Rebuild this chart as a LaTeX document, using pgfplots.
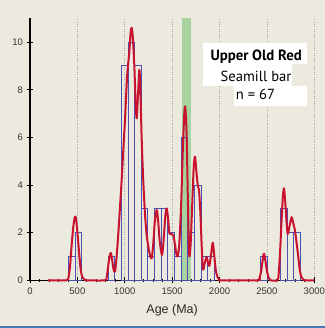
\documentclass[border=0pt]{standalone}
\usepackage{pgfplots}
\pgfplotsset{compat=1.18}
\usepackage{fontspec}
\setmainfont{Liberation Sans}
\newfontfamily\boxfont{PT Sans}
\definecolor{bg}{RGB}{236,233,223}
\definecolor{barblue}{RGB}{78,78,172}
\definecolor{kde}{RGB}{200,18,46}
\definecolor{band}{RGB}{168,210,160}
\definecolor{stripe}{RGB}{72,120,182}
\definecolor{gridgray}{RGB}{165,165,165}
\begin{document}
\begin{tikzpicture}
\useasboundingbox (0,0) rectangle (325bp,328bp);
\fill[bg] (0,0) rectangle (325bp,328bp);
\fill[stripe] (0,0.3bp) rectangle (325bp,2.4bp);
\begin{axis}[
  at={(30bp,47.7bp)}, anchor=south west,
  scale only axis, width=284.3bp, height=262bp,
  xmin=0, xmax=3000, ymin=0, ymax=11,
  axis lines=left,
  axis line style={-, line width=1.1bp, black},
  xtick={0,500,...,3000},
  minor xtick={100,200,...,2900},
  ytick={0,2,...,10},
  minor ytick={1,3,...,11},
  tick align=center,
  major tick length=6bp,
  minor tick length=3bp,
  tick style={black, line width=0.8bp},
  xmajorgrids,
  major grid style={gridgray, dotted, line width=0.7bp},
  /pgf/number format/assume math mode=true,
  /pgf/number format/1000 sep={},
  ticklabel style={font=\fontsize{9.5bp}{11bp}\selectfont, text=black!80},
  xticklabel style={yshift=-1bp},
  yticklabel style={xshift=-0.5bp},
  xlabel={Age (Ma)},
  xlabel style={font=\fontsize{12.5bp}{14bp}\selectfont, text=black!85, yshift=-3bp},
  clip=false,
]
% green band
\addplot[ybar, bar width=95, bar shift=0, fill=band, draw=none] coordinates {(1652.5,11)};
% histogram bars (bin centres, width 70 Ma)
\addplot[ybar, bar width=70, bar shift=0, fill=none, draw=barblue, line width=1bp] coordinates {
(440,1) (510,2) (860,1)
(1000,9) (1070,10) (1140,9) (1210,3) (1280,1) (1350,3) (1420,3) (1490,2) (1560,1)
(1630,6) (1700,2) (1770,4) (1840,1) (1910,1)
(2470,1) (2680,3) (2750,2) (2820,2)};
% KDE curve
\addplot[kde, line width=2bp, smooth, tension=0.45, line join=round] coordinates {
(190,0) (380,0) (405,0.1) (422,0.57) (440,1.5) (457,2.25) (470,2.6) (482,2.67)
(495,2.25) (510,1.55) (525,0.85) (538,0.36) (555,0.12) (580,0.02) (600,0)
(790,0) (810,0.15) (825,0.6) (840,1.0) (853,1.15) (867,0.85) (882,0.45) (897,0.36)
(912,0.9) (932,1.97) (950,3.1) (967,4.2) (985,5.5) (1002,6.7) (1015,7.8) (1027,8.7)
(1048,9.6) (1062,10.4) (1073,10.6) (1085,10.2) (1101,9.0) (1115,7.4) (1126,6.8)
(1140,7.8) (1154,8.84) (1166,7.8) (1178,6.0) (1195,4.2) (1213,2.8) (1230,1.95)
(1249,1.4) (1267,1.05) (1284,0.92) (1300,1.5) (1318,2.5) (1337,2.95) (1352,2.5)
(1370,1.6) (1393,1.06) (1410,1.7) (1428,2.7) (1442,3.02) (1457,2.6) (1470,2.0)
(1480,1.95) (1495,1.95) (1512,1.88) (1530,1.5) (1545,1.1) (1558,1.0) (1575,1.5)
(1595,3.2) (1612,5.4) (1628,7.0) (1639,7.27) (1652,6.2) (1663,4.0) (1673,2.0)
(1682,1.0) (1695,1.5) (1710,3.0) (1727,4.7) (1741,5.19) (1755,4.6) (1770,4.0)
(1783,3.8) (1797,2.9) (1810,1.6) (1822,0.6) (1830,0.45) (1845,0.75) (1864,0.97)
(1878,0.75) (1892,0.6) (1908,1.0) (1928,1.58) (1943,1.1) (1960,0.45) (1977,0.15)
(2000,0.02) (2020,0) (2400,0) (2420,0.08) (2440,0.4) (2455,0.85) (2469,1.12)
(2483,0.85) (2500,0.4) (2520,0.08) (2540,0) (2610,0) (2625,0.3) (2640,1.3)
(2655,2.53) (2668,3.5) (2680,3.86) (2693,3.3) (2708,2.4) (2720,1.95) (2740,2.3)
(2761,2.65) (2778,2.4) (2796,2.1) (2812,1.6) (2831,0.99) (2848,0.4) (2866,0.12)
(2885,0.02) (2910,0) (3000,0)};
\end{axis}
% label box
\fill[white] (202.7bp,263.7bp) rectangle (307.3bp,285.3bp);
\fill[white] (202.7bp,242.3bp) rectangle (291.7bp,263.7bp);
\fill[white] (234.3bp,221.7bp) rectangle (307.3bp,242.3bp);
\node[anchor=base, inner sep=0pt, font=\boxfont\bfseries\fontsize{14.8bp}{16bp}\selectfont] at (256.2bp,267bp) {Upper Old Red};
\node[anchor=base, inner sep=0pt, font=\boxfont\fontsize{14.6bp}{16bp}\selectfont] at (256bp,246.3bp) {Seamill bar};
\node[anchor=base, inner sep=0pt, font=\boxfont\fontsize{14.6bp}{16bp}\selectfont] at (255.5bp,228.7bp) {n = 67};
\end{tikzpicture}
\end{document}
